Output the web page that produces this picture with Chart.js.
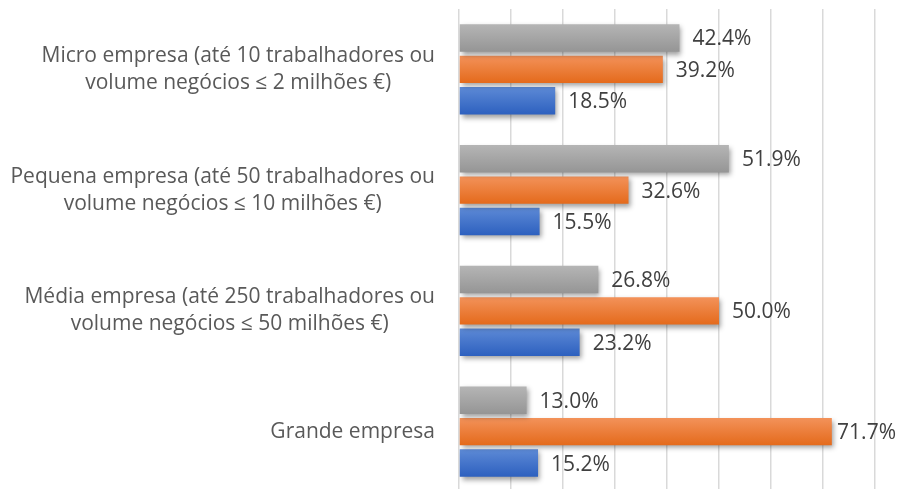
<!DOCTYPE html>
<html>
<head>
<meta charset="utf-8">
<script src="https://cdn.jsdelivr.net/npm/chart.js@4/dist/chart.umd.min.js"></script>
<style>
html,body{margin:0;padding:0;background:#fff;overflow:hidden;}
#wrap{width:899px;height:494px;position:relative;}
</style>
</head>
<body>
<div id="wrap"><canvas id="c" width="899" height="494"></canvas></div>
<script>
const categories = [
  ["Micro empresa (até 10 trabalhadores ou", "volume negócios ≤ 2 milhões €)"],
  ["Pequena empresa (até 50 trabalhadores ou", "volume negócios ≤ 10 milhões €)"],
  ["Média empresa (até 250 trabalhadores ou", "volume negócios ≤ 50 milhões €)"],
  ["Grande empresa"]
];
const seriesGray = [42.4, 51.9, 26.8, 13.0];
const seriesOrange = [39.2, 32.6, 50.0, 71.7];
const seriesBlue = [18.5, 15.5, 23.2, 15.2];
const xTicks = [0, 10, 20, 30, 40, 50, 60, 70, 80];

const gradStops = [
  ["#b5b5b5", "#959595"],
  ["#f3925a", "#e46a1b"],
  ["#5d8ad6", "#2d60bf"]
];

const gradientPlugin = {
  id: 'grad',
  afterDatasetsUpdate(chart) {
    const ctx = chart.ctx;
    chart.data.datasets.forEach((ds, di) => {
      const meta = chart.getDatasetMeta(di);
      meta.data.forEach(el => {
        const h = el.height;
        const g = ctx.createLinearGradient(0, el.y - h / 2, 0, el.y + h / 2);
        g.addColorStop(0, gradStops[di][0]);
        g.addColorStop(1, gradStops[di][1]);
        el.options = Object.assign({}, el.options, {backgroundColor: g});
      });
    });
  },
  beforeDatasetsDraw(chart) {
    const ctx = chart.ctx;
    ctx.save();
    ctx.shadowColor = 'rgba(0,0,0,0.38)';
    ctx.shadowBlur = 5;
    ctx.shadowOffsetX = 2;
    ctx.shadowOffsetY = 3;
  },
  afterDatasetsDraw(chart) {
    const ctx = chart.ctx;
    ctx.restore();
    // value labels
    ctx.save();
    ctx.font = '21px "Open Sans"';
    ctx.fillStyle = '#404040';
    ctx.textBaseline = 'middle';
    ctx.textAlign = 'left';
    chart.data.datasets.forEach((ds, di) => {
      const meta = chart.getDatasetMeta(di);
      meta.data.forEach((el, i) => {
        const txt = ds.data[i].toFixed(1) + '%';
        const w = ctx.measureText(txt).width;
        let x = el.x + 13;
        if (x + w > 896) x = 896 - w;
        ctx.fillText(txt, x, el.y + 1.5);
      });
    });
    // category labels
    const ys = chart.scales.y;
    ctx.font = '21px "Open Sans"';
    ctx.fillStyle = '#595959';
    ctx.textAlign = 'center';
    categories.forEach((lines, i) => {
      const cy = ys.getPixelForValue(i);
      const widest = Math.max(...lines.map(l => ctx.measureText(l).width));
      const cx = 435 - widest / 2;
      const lh = 27;
      lines.forEach((l, k) => {
        const y = cy + (k - (lines.length - 1) / 2) * lh;
        ctx.fillText(l, cx, y);
      });
    });
    ctx.restore();
  }
};

new Chart(document.getElementById('c'), {
  type: 'bar',
  data: {
    labels: categories,
    datasets: [
      {label: 'Série 3', data: seriesGray, backgroundColor: '#a5a5a5'},
      {label: 'Série 2', data: seriesOrange, backgroundColor: '#ed7d31'},
      {label: 'Série 1', data: seriesBlue, backgroundColor: '#4472c4'}
    ]
  },
  options: {
    indexAxis: 'y',
    responsive: false,
    animation: false,
    devicePixelRatio: 1,
    layout: {padding: {left: 459, right: 24, top: 9, bottom: 2}},
    datasets: {bar: {categoryPercentage: 0.78, barPercentage: 0.875, borderWidth: 0}},
    plugins: {legend: {display: false}, tooltip: {enabled: false}},
    scales: {
      x: {
        min: xTicks[0], max: xTicks[xTicks.length - 1],
        afterBuildTicks: (s) => { s.ticks = xTicks.map(v => ({value: v})); },
        ticks: {display: false},
        border: {display: false},
        grid: {color: '#d9d9d9', lineWidth: 1.5, drawTicks: false}
      },
      y: {
        display: false
      }
    }
  },
  plugins: [gradientPlugin]
});
</script>
</body>
</html>
